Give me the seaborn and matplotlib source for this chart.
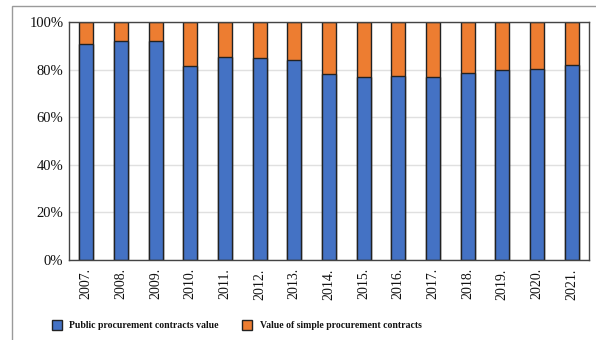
import numpy as np
import pandas as pd
import matplotlib
matplotlib.use("Agg")
import matplotlib.pyplot as plt
from matplotlib.lines import Line2D
from matplotlib.patches import Rectangle
import seaborn as sns

years = ["2007.", "2008.", "2009.", "2010.", "2011.", "2012.", "2013.", "2014.",
         "2015.", "2016.", "2017.", "2018.", "2019.", "2020.", "2021."]
public_share = [90.8, 91.9, 92.1, 81.6, 85.3, 84.7, 84.2, 78.3,
                76.9, 77.3, 76.9, 78.7, 79.8, 80.3, 81.8]
simple_share = [9.2, 8.1, 7.9, 18.4, 14.7, 15.3, 15.8, 21.7,
                23.1, 22.7, 23.1, 21.3, 20.2, 19.7, 18.2]
labels = ["Public procurement contracts value", "Value of simple procurement contracts"]

blue = "#4472C4"
orange = "#ED7D31"

sns.set_style("white")
plt.rcParams["font.family"] = ["Liberation Serif", "DejaVu Serif"]
plt.rcParams["text.color"] = "#111111"
plt.rcParams["xtick.color"] = "#111111"
plt.rcParams["ytick.color"] = "#111111"

df = pd.DataFrame({"year": years, "public": public_share, "simple": simple_share})
df["total"] = df["public"] + df["simple"]

fig = plt.figure(figsize=(5.96, 3.40), dpi=100)
ax = fig.add_axes([69 / 596, 1 - 260 / 340, (589 - 69) / 596, (260 - 22) / 340])

sns.barplot(data=df, x="year", y="total", color=orange, width=0.4,
            edgecolor="#222222", linewidth=1, saturation=1, ax=ax)
sns.barplot(data=df, x="year", y="public", color=blue, width=0.4,
            edgecolor="#222222", linewidth=1, saturation=1, ax=ax)

ax.set_ylim(0, 100)
ax.set_xlim(-0.5, len(years) - 0.5)
ax.set_yticks(np.arange(0, 101, 20))
ax.set_yticklabels([f"{v}%" for v in range(0, 101, 20)], fontsize=10.5)
ax.set_xticks(range(len(years)))
ax.set_xticklabels(years, rotation=90, fontsize=10)
ax.tick_params(axis="both", length=0, pad=4)
ax.tick_params(axis="x", pad=6)
ax.set_xlabel("")
ax.set_ylabel("")
ax.yaxis.grid(True, color="#e0e0e0", linewidth=1)
ax.set_axisbelow(True)
for s in ax.spines.values():
    s.set_visible(True)
    s.set_color("#444444")
    s.set_linewidth(1)

# outer frame around the figure
fig.patches.append(Rectangle((12 / 596, -0.1), 1.2, 1 - 6 / 340 + 0.1,
                             transform=fig.transFigure, fill=False,
                             edgecolor="#9a9a9a", linewidth=1))

handles = [Line2D([], [], marker="s", linestyle="", markersize=6.5,
                  markerfacecolor=c, markeredgecolor="#222222", markeredgewidth=1)
           for c in (blue, orange)]
fig.legend(handles, labels, loc="center left", bbox_to_anchor=(43 / 596, 1 - 326 / 340),
           ncol=2, frameon=False, prop={"weight": "bold", "size": 7},
           columnspacing=2.4, handletextpad=0.8, handlelength=1)

fig.savefig("out.png", dpi=100)
